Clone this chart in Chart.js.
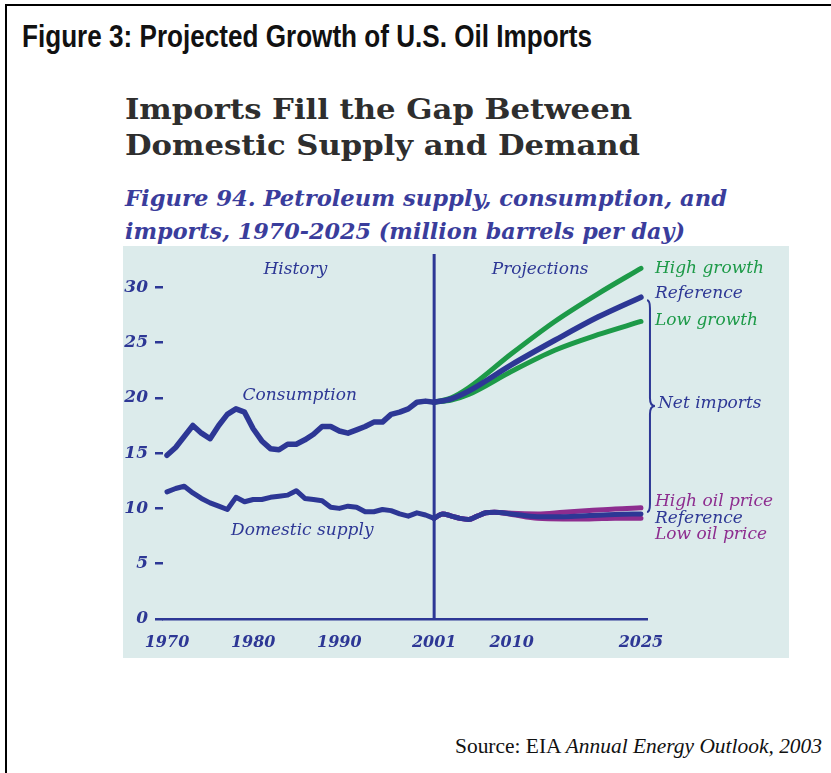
<!DOCTYPE html>
<html>
<head>
<meta charset="utf-8">
<script src="https://cdn.jsdelivr.net/npm/chart.js@4.4.0/dist/chart.umd.min.js"></script>
<style>
  body { margin: 0; width: 831px; height: 773px; background: #fff; overflow: hidden; position: relative; }
  #frame { position: absolute; left: 5px; top: 4px; width: 840px; height: 800px;
           border-left: 2.5px solid #000; border-top: 2.5px solid #000; }
  .t { position: absolute; white-space: nowrap; line-height: 1; transform-origin: 0 0; }
  #title { left: 22px; top: 19px; font: bold 31px "Liberation Sans Narrow", "Arial Narrow", "Liberation Sans", sans-serif; color: #111; }
  .head { left: 125px; font: bold 28px "DejaVu Serif", serif; color: #2e2e2e; }
  .fig { left: 125px; font: italic bold 22px "DejaVu Serif", serif; color: #3a3d9c; }
  #source { left: 455px; top: 735px; font: 20px "Liberation Serif", "Times New Roman", serif; color: #111; }
  #plot { position: absolute; left: 123px; top: 246px; width: 666px; height: 412px; background: #dcebeb; }
</style>
</head>
<body>
<div id="frame"></div>
<div class="t" id="title" data-w="570">Figure 3: Projected Growth of U.S. Oil Imports</div>
<div class="t head" style="top:93px" data-w="507">Imports Fill the Gap Between</div>
<div class="t head" style="top:129px" data-w="515">Domestic Supply and Demand</div>
<div class="t fig" style="top:185px" data-w="602">Figure 94. Petroleum supply, consumption, and</div>
<div class="t fig" style="top:218px" data-w="560">imports, 1970-2025 (million barrels per day)</div>
<div class="t" id="source" data-w="367">Source: EIA <i>Annual Energy Outlook, 2003</i></div>
<div id="plot"><canvas id="chart" width="666" height="412"></canvas></div>
<script>
// history, 1970-2001 (million barrels per day)
const histYears = [1970, 1971, 1972, 1973, 1974, 1975, 1976, 1977, 1978, 1979,
                   1980, 1981, 1982, 1983, 1984, 1985, 1986, 1987, 1988, 1989,
                   1990, 1991, 1992, 1993, 1994, 1995, 1996, 1997, 1998, 1999,
                   2000, 2001];
const consumption = [14.8, 15.5, 16.5, 17.5, 16.8, 16.3, 17.5, 18.5, 19.0, 18.7,
                     17.2, 16.1, 15.4, 15.3, 15.8, 15.8, 16.2, 16.7, 17.4, 17.4,
                     17.0, 16.8, 17.1, 17.4, 17.8, 17.8, 18.5, 18.7, 19.0, 19.6,
                     19.7, 19.6];
const domesticSupply = [11.5, 11.8, 12.0, 11.4, 10.9, 10.5, 10.2, 9.9, 11.0, 10.6,
                        10.8, 10.8, 11.0, 11.1, 11.2, 11.6, 10.9, 10.8, 10.7, 10.1,
                        10.0, 10.2, 10.1, 9.7, 9.7, 9.9, 9.8, 9.5, 9.3, 9.6,
                        9.4, 9.1];

// projections, consumption cases
const projYears = [2001, 2003, 2005, 2010, 2015, 2020, 2025];
const consReference = [19.6, 19.9, 20.6, 23.0, 25.2, 27.3, 29.1];
const consHighGrowth = [19.6, 20.0, 20.9, 24.0, 26.9, 29.4, 31.7];
const consLowGrowth = [19.6, 19.8, 20.3, 22.4, 24.3, 25.7, 26.9];

// projections, domestic supply cases
const supplyYears = [2001, 2002, 2003, 2004, 2005, 2006, 2007, 2008, 2010, 2013, 2016, 2019, 2022, 2025];
const supplyReference = [9.1, 9.5, 9.3, 9.1, 9.0, 9.3, 9.6, 9.65, 9.5, 9.25, 9.25, 9.35, 9.45, 9.5];
const supplyHighPrice = [9.1, 9.5, 9.3, 9.1, 9.0, 9.3, 9.6, 9.65, 9.55, 9.5, 9.65, 9.8, 9.95, 10.05];
const supplyLowPrice = [9.1, 9.5, 9.3, 9.1, 9.0, 9.3, 9.6, 9.65, 9.45, 9.1, 9.05, 9.05, 9.1, 9.1];

const xTicks = [1970, 1980, 1990, 2001, 2010, 2025];
const yTicks = [0, 5, 10, 15, 20, 25, 30];
const dividerYear = 2001;
const lastYear = 2025;
const yMax = 33;

const navy = '#2d3795';
const green = '#1d9a48';
const purple = '#8d2d8f';

const labelFont = 'italic 17px "DejaVu Serif", serif';
const areaLabels = [
  { text: 'History', year: 1984.9, value: 31.6 },
  { text: 'Projections', year: 2013.3, value: 31.6 },
  { text: 'Consumption', year: 1985.4, value: 20.2 },
  { text: 'Domestic supply', year: 1985.7, value: 8.0 }
];
const endLabels = [
  { text: 'High growth', value: 31.7, color: green, dx: 14 },
  { text: 'Reference', value: 29.4, color: navy, dx: 14 },
  { text: 'Low growth', value: 27.0, color: green, dx: 14 },
  { text: 'Net imports', value: 19.5, color: navy, dx: 17 },
  { text: 'High oil price', value: 10.6, color: purple, dx: 14 },
  { text: 'Reference', value: 9.1, color: navy, dx: 14 },
  { text: 'Low oil price', value: 7.6, color: purple, dx: 14 }
];

function pts(xs, ys) {
  return xs.map((x, i) => ({ x: x, y: ys[i] }));
}

function line(data, color, width, smooth) {
  return {
    data: data, borderColor: color, borderWidth: width, pointRadius: 0,
    borderJoinStyle: 'round', borderCapStyle: 'round',
    cubicInterpolationMode: smooth ? 'monotone' : 'default', tension: 0
  };
}

const overlay = {
  id: 'overlay',
  afterDatasetsDraw(chart) {
    const { ctx, scales: { x, y } } = chart;
    ctx.save();
    ctx.font = labelFont;
    ctx.textBaseline = 'middle';
    ctx.fillStyle = navy;
    ctx.textAlign = 'center';
    areaLabels.forEach(l => ctx.fillText(l.text, x.getPixelForValue(l.year), y.getPixelForValue(l.value)));
    ctx.textAlign = 'left';
    endLabels.forEach(l => {
      ctx.fillStyle = l.color;
      ctx.fillText(l.text, x.getPixelForValue(lastYear) + l.dx, y.getPixelForValue(l.value));
    });

    // brace for net imports
    const bx = x.getPixelForValue(lastYear) + 9;
    const top = y.getPixelForValue(consReference[consReference.length - 1]) + 3;
    const bot = y.getPixelForValue(supplyReference[supplyReference.length - 1]) - 2;
    const mid = (top + bot) / 2;
    ctx.strokeStyle = navy;
    ctx.lineWidth = 2;
    ctx.beginPath();
    ctx.moveTo(bx - 3, top);
    ctx.quadraticCurveTo(bx, top, bx, top + 8);
    ctx.lineTo(bx, mid - 8);
    ctx.quadraticCurveTo(bx, mid, bx + 5, mid);
    ctx.quadraticCurveTo(bx, mid, bx, mid + 8);
    ctx.lineTo(bx, bot - 8);
    ctx.quadraticCurveTo(bx, bot, bx - 3, bot);
    ctx.stroke();
    ctx.restore();
  }
};

new Chart('chart', {
  type: 'line',
  data: {
    datasets: [
      line(pts([dividerYear, dividerYear], [0, yMax]), navy, 3, false),
      line(pts(histYears, consumption), navy, 5.5, false),
      line(pts(histYears, domesticSupply), navy, 5, false),
      line(pts(projYears, consReference), navy, 5.5, true),
      line(pts(supplyYears, supplyReference), navy, 5, true),
      line(pts(projYears, consHighGrowth), green, 5, true),
      line(pts(projYears, consLowGrowth), green, 5, true),
      line(pts(supplyYears, supplyHighPrice), purple, 5, true),
      line(pts(supplyYears, supplyLowPrice), purple, 5, true)
    ]
  },
  options: {
    responsive: false,
    animation: false,
    devicePixelRatio: 1,
    layout: { padding: { left: 0, right: 142, top: 8, bottom: 0 } },
    plugins: { legend: { display: false }, tooltip: { enabled: false } },
    scales: {
      x: {
        type: 'linear', min: 1969.536, max: 2025.7,
        afterBuildTicks: s => { s.ticks = xTicks.map(v => ({ value: v })); },
        afterFit: s => { s.height = 39; s.paddingLeft = 0; s.paddingRight = 0; },
        grid: { display: false },
        border: { display: true, color: navy, width: 2.5 },
        ticks: { color: navy, padding: 6, maxRotation: 0, autoSkip: false,
                 font: { family: '"DejaVu Serif", serif', size: 16, style: 'italic', weight: 'bold' },
                 callback: v => String(v) }
      },
      y: {
        min: 0, max: yMax,
        afterBuildTicks: s => { s.ticks = yTicks.map(v => ({ value: v })); },
        afterFit: s => { s.width = 40; s.paddingTop = 0; s.paddingBottom = 0; },
        border: { display: false },
        grid: { drawOnChartArea: false, drawTicks: true, tickLength: 8, color: navy, lineWidth: 2.5 },
        ticks: { color: navy, padding: 7,
                 font: { family: '"DejaVu Serif", serif', size: 17, style: 'italic', weight: 'bold' } }
      }
    }
  },
  plugins: [overlay]
});

// squeeze the header texts to the widths of the original figure
document.querySelectorAll('.t[data-w]').forEach(el => {
  const w = el.getBoundingClientRect().width;
  el.style.transform = 'scaleX(' + (Number(el.dataset.w) / w) + ')';
});
</script>
</body>
</html>
